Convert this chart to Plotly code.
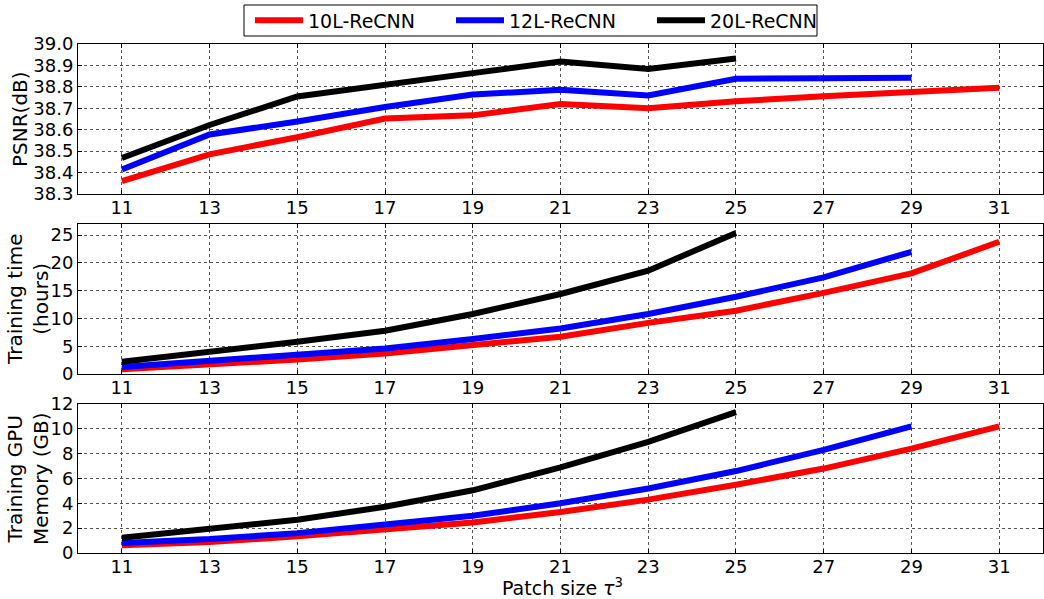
import plotly.graph_objects as go

patch = [11, 13, 15, 17, 19, 21, 23, 25, 27, 29, 31]
x10 = patch
x12 = patch[:10]
x20 = patch[:8]

psnr_10 = [38.36, 38.485, 38.565, 38.652, 38.667, 38.72, 38.70, 38.733, 38.756, 38.776, 38.796]
psnr_12 = [38.414, 38.578, 38.638, 38.706, 38.764, 38.786, 38.76, 38.838, 38.840, 38.843]
psnr_20 = [38.468, 38.622, 38.755, 38.812, 38.864, 38.918, 38.883, 38.932]

time_10 = [0.85, 1.7, 2.6, 3.7, 5.2, 6.7, 9.2, 11.4, 14.6, 18.1, 23.8]
time_12 = [1.25, 2.3, 3.4, 4.6, 6.3, 8.2, 10.8, 13.9, 17.4, 22.0]
time_20 = [2.2, 3.9, 5.8, 7.8, 10.8, 14.4, 18.6, 25.4]

mem_10 = [0.62, 0.88, 1.34, 1.88, 2.45, 3.3, 4.3, 5.5, 6.8, 8.4, 10.2]
mem_12 = [0.8, 1.12, 1.6, 2.28, 3.0, 4.0, 5.2, 6.6, 8.3, 10.2]
mem_20 = [1.22, 1.93, 2.68, 3.72, 5.05, 6.9, 8.95, 11.35]

names = ["10L-ReCNN", "12L-ReCNN", "20L-ReCNN"]
colors = ["#ff0000", "#0000ff", "#000000"]

psnr_ticks = [38.3, 38.4, 38.5, 38.6, 38.7, 38.8, 38.9, 39.0]
time_ticks = [0, 5, 10, 15, 20, 25]
mem_ticks = [0, 2, 4, 6, 8, 10, 12]

fig = go.Figure()
panels = [
    ("y", [psnr_10, psnr_12, psnr_20]),
    ("y2", [time_10, time_12, time_20]),
    ("y3", [mem_10, mem_12, mem_20]),
]
xs = [x10, x12, x20]
xaxes = {"y": "x", "y2": "x2", "y3": "x3"}
for pi, (yax, series) in enumerate(panels):
    for si in range(3):
        fig.add_trace(go.Scatter(
            x=xs[si], y=series[si], mode="lines",
            line=dict(color=colors[si], width=6),
            name=names[si], showlegend=(pi == 0),
            xaxis=xaxes[yax], yaxis=yax,
        ))

FONT = "DejaVu Sans"
H = 599.0
L = 78
W = 1044 - L - 1
def dom(top, bottom):
    return [1 - bottom / H, 1 - top / H]

def px_x(p):
    return (p - L) / W

def px_y(p):
    return 1 - p / H

common_x = dict(range=[10, 32], tickvals=patch, showgrid=True, gridcolor="#555",
                griddash="dot", gridwidth=1, showline=True, linecolor="black",
                linewidth=1, mirror="ticks", ticks="inside", ticklen=4,
                tickcolor="black", zeroline=False, automargin=False,
                ticklabelstandoff=-3,
                tickfont=dict(family=FONT, size=18, color="black"))
common_y = dict(showgrid=True, gridcolor="#555", griddash="dot", gridwidth=1,
                showline=True, linecolor="black", linewidth=1, mirror="ticks",
                ticks="inside", ticklen=4, tickcolor="black", zeroline=False,
                automargin=False,
                tickfont=dict(family=FONT, size=18, color="black"))

fig.update_layout(
    width=1044, height=599,
    margin=dict(l=L, r=1, t=0, b=0, autoexpand=False),
    paper_bgcolor="white", plot_bgcolor="white",
    font=dict(family=FONT, size=18, color="black"),
    xaxis=dict(common_x, domain=[0, 1], anchor="y"),
    xaxis2=dict(common_x, domain=[0, 1], anchor="y2"),
    xaxis3=dict(common_x, domain=[0, 1], anchor="y3"),
    yaxis=dict(common_y, domain=dom(44, 194), range=[38.3, 39.0],
               tickvals=psnr_ticks, ticktext=[f"{v:.1f}" for v in psnr_ticks], anchor="x"),
    yaxis2=dict(common_y, domain=dom(224, 374), range=[0, 27],
                tickvals=time_ticks, anchor="x2"),
    yaxis3=dict(common_y, domain=dom(404, 553), range=[0, 12],
                tickvals=mem_ticks, anchor="x3"),
    legend=dict(orientation="h", x=px_x(250), xanchor="left",
                y=px_y(20.5), yanchor="middle",
                borderwidth=0, bgcolor="rgba(0,0,0,0)",
                font=dict(family=FONT, size=19, color="black"),
                itemwidth=48, entrywidth=138, entrywidthmode="pixels"),
    showlegend=True,
)

# legend frame
fig.add_shape(type="rect", xref="paper", yref="paper",
              x0=px_x(244), x1=px_x(817), y0=px_y(36), y1=px_y(5),
              line=dict(color="black", width=1), fillcolor="white", layer="below")

annos = [
    dict(text="PSNR(dB)", x=px_x(20), y=px_y(119)),
    dict(text="Training time<br>(hours)", x=px_x(28), y=px_y(300)),
    dict(text="Training GPU<br>Memory (GB)", x=px_x(28), y=px_y(479)),
]
for a in annos:
    fig.add_annotation(text=a["text"], x=a["x"], y=a["y"], xref="paper", yref="paper",
                       textangle=-90, showarrow=False, xanchor="center", yanchor="middle",
                       font=dict(family=FONT, size=20, color="black"))
fig.add_annotation(text="Patch size <i>τ</i><sup>3</sup>", x=px_x(562), y=px_y(587),
                   xref="paper", yref="paper", showarrow=False, xanchor="center",
                   yanchor="middle", font=dict(family=FONT, size=19, color="black"))

fig.write_html("out.html", config={"displayModeBar": False},
               post_script="document.body.style.margin='0';document.body.style.overflow='hidden';")
